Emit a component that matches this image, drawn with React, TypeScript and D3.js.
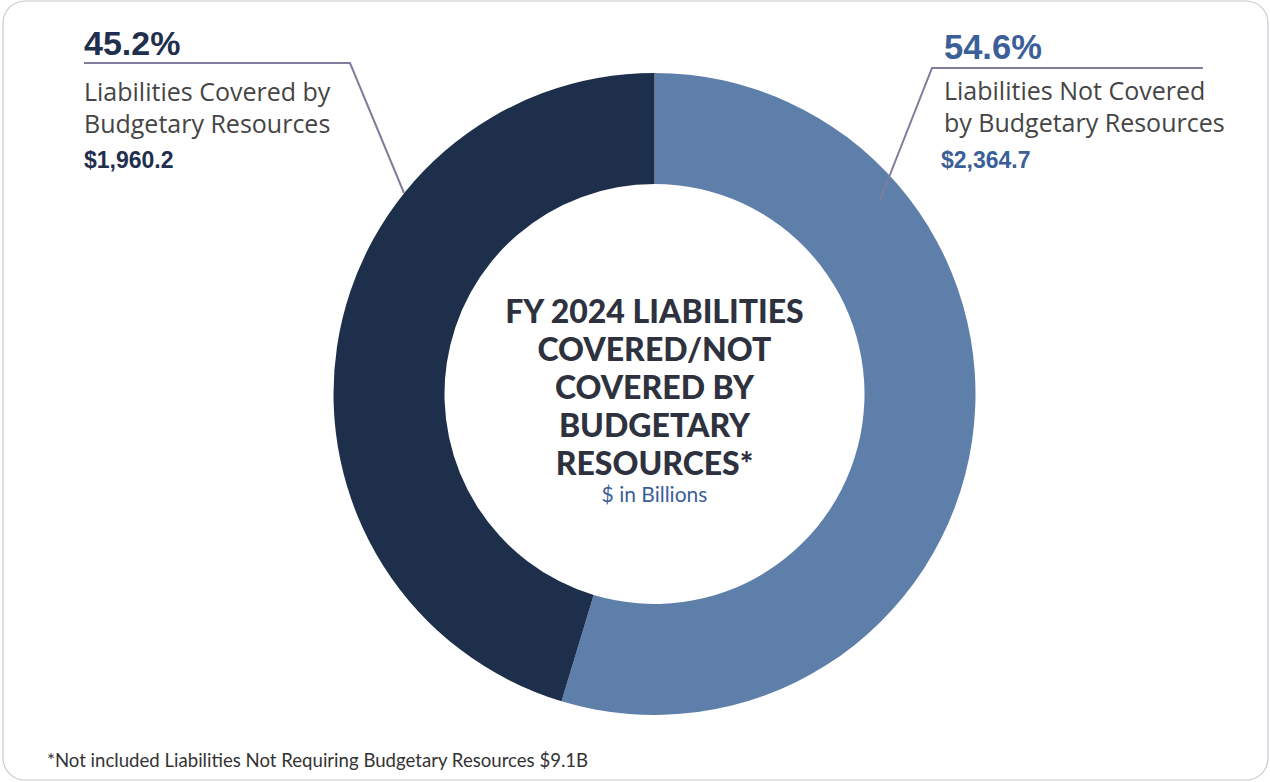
import React from "react";
import * as d3 from "d3";

const categories = ["Liabilities Not Covered by Budgetary Resources", "Liabilities Covered by Budgetary Resources"];
const values = [2364.7, 1960.2];
const percents = ["54.6%", "45.2%"];
const amounts = ["$2,364.7", "$1,960.2"];
const colors = ["#5f7fab", "#1e2f4b"];
const titleLines = ["FY 2024 LIABILITIES", "COVERED/NOT", "COVERED BY", "BUDGETARY", "RESOURCES*"];
const footnote = "*Not included Liabilities Not Requiring Budgetary Resources $9.1B";

export default function App() {
  const W = 1270, H = 782;
  const cx = 654.5, cy = 394;
  const rOuter = 321, rInner = 210;
  const pie = d3.pie<number>().sort(null).value((d) => d);
  const arcs = pie(values);
  const arc = d3.arc<d3.PieArcDatum<number>>().innerRadius(rInner).outerRadius(rOuter);
  const lineColor = "#7f7c9c";
  return (
    <svg width={W} height={H} style={{ position: "absolute", left: 0, top: 0 }}>
      <rect x={3} y={1} width={1265} height={779} rx={22} ry={22} fill="#fff" stroke="#c9c9d0" strokeWidth={1.2} />
      <g transform={`translate(${cx},${cy})`}>
        {arcs.map((a, i) => (
          <path key={i} d={arc(a) || ""} fill={colors[i]} />
        ))}
      </g>
      {/* leader lines */}
      <polyline points="84,63 350,63 404,193" fill="none" stroke={lineColor} strokeWidth={2} />
      <polyline points="1203,68 932,68 880,200" fill="none" stroke={lineColor} strokeWidth={2} />
      {/* left label */}
      <text x={84} y={55} fontFamily="Liberation Sans, Arial, sans-serif" fontWeight="bold" fontSize={34} fill="#1f2f4d">{percents[1]}</text>
      <text fontFamily="Open Sans, sans-serif" fontSize={25} fill="#454545">
        <tspan x={84} y={101}>Liabilities Covered by</tspan>
        <tspan x={84} y={133}>Budgetary Resources</tspan>
      </text>
      <text x={84} y={168} fontFamily="Liberation Sans, Arial, sans-serif" fontWeight="bold" fontSize={23} fill="#1f2f4d">{amounts[1]}</text>
      {/* right label */}
      <text x={944} y={59} fontFamily="Liberation Sans, Arial, sans-serif" fontWeight="bold" fontSize={34.5} fill="#3b5f98">{percents[0]}</text>
      <text fontFamily="Open Sans, sans-serif" fontSize={25} fill="#454545">
        <tspan x={944} y={100}>Liabilities Not Covered</tspan>
        <tspan x={944} y={132}>by Budgetary Resources</tspan>
      </text>
      <text x={941} y={168} fontFamily="Liberation Sans, Arial, sans-serif" fontWeight="bold" fontSize={23} fill="#3b5f98">{amounts[0]}</text>
      {/* center title */}
      <text textAnchor="middle" fontFamily="Lato, sans-serif" fontWeight="900" fontSize={32} fill="#2e323f">
        {titleLines.map((t, i) => (
          <tspan key={i} x={cx} y={323 + i * 38}>{t}</tspan>
        ))}
      </text>
      <text x={cx} y={502} textAnchor="middle" fontFamily="Lato, sans-serif" fontSize={21} fill="#3b5f98">$ in Billions</text>
      <text x={47} y={767} fontFamily="Lato, sans-serif" fontSize={18.6} fill="#333">{footnote}</text>
    </svg>
  );
}
